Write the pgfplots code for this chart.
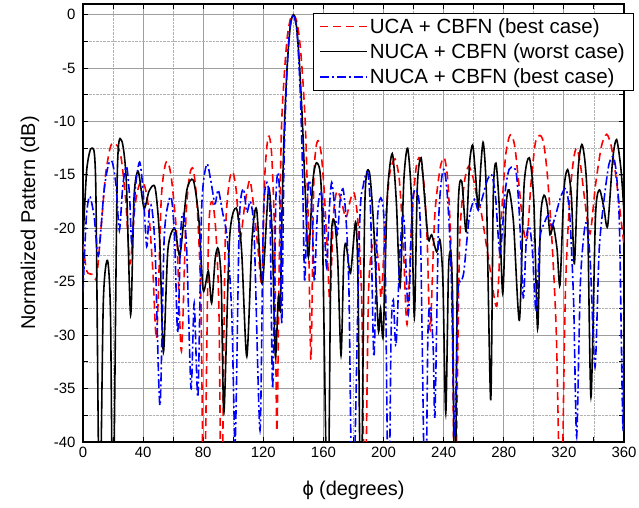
\documentclass[border=0pt]{standalone}
\usepackage{fontspec}
\setmainfont{Liberation Sans}
\usepackage{pgfplots}
\pgfplotsset{compat=1.18}

\pgfplotstableread{
x y
0 -21.5
2.5 -24
6 -24.3
9 -24.6
12 -20
15 -15
18 -12.5
20.2 -12
23 -12.3
25.5 -13.5
28.5 -17.5
31.3 -23.3
34.5 -18
37.5 -15.9
40.5 -15.8
43.5 -18
46.5 -24
49 -30.3
52 -17.5
54.5 -14.2
56.5 -13.8
59 -15.5
62.5 -21
65.5 -31.5
68.5 -19
71 -15
73.4 -14.5
76 -18
78.5 -27
80.5 -48
83.5 -21
86 -17.5
88.5 -20.5
90.5 -28
92.2 -48
94.5 -22
97 -16
99.6 -14.7
102 -16.5
104.5 -21
107.5 -18
111 -15.5
114 -18.5
116.5 -22
119 -25
121 -15
123.3 -11.4
125.5 -13
127.5 -21
129 -39
130.5 -24
132 -11
134 -5.5
136 -2
138 -0.4
140 0
142 -0.5
144 -2.2
146 -5.5
148 -10.5
150 -20
151.7 -32.3
153.5 -16
155 -12.5
156.6 -11.8
158.5 -13
160.5 -16.5
162.5 -22
164.4 -27
166.5 -19
169 -16.5
172 -17.5
175 -19
178 -17.3
180.5 -16.7
183 -19.5
185.5 -27
187.6 -48
190 -26
193.5 -21
196.5 -23
198.5 -26.5
201 -20
204 -15
207.6 -13.5
210.5 -15.5
213 -21
215.6 -29
218.5 -20
221.5 -14.5
224.2 -13.4
227 -16
229 -21
231 -29.5
234 -19
237.5 -14.5
240.4 -13.4
243 -16
245.5 -25
247.5 -48
250.5 -22
253.5 -16
256.5 -14.2
259.5 -15.2
262 -17
265 -18.5
270 -23
275.3 -27.3
278 -20
281 -13.5
283.5 -11.5
285.3 -11.3
287.5 -12.5
290.5 -16.5
293 -20
295.5 -21
298 -16
301 -12
304 -11.3
306.5 -12
309 -15
312 -21
315 -30
318 -48
321 -26
324 -17
326.5 -13.5
328.5 -12.5
331 -14
334 -17.5
337.4 -20.5
341 -16
345 -12.3
348.5 -11.2
351.5 -12.3
354.5 -15
357 -18
360 -21.5
}\ucabest

\pgfplotstableread{
x y
0 -21.2
2.5 -14.5
5.8 -12.5
8.5 -16
11 -48
13.5 -27
16.3 -23
18.3 -28
20 -48
22.8 -15
25.7 -11.8
28.8 -15.5
31.7 -28.1
34 -17
36.8 -14.7
40.6 -18.1
44 -16.5
48 -16.2
51 -21
53.5 -31.6
56.5 -22
61 -20
64.5 -22.5
69 -16.5
73.4 -15.5
77 -19
80 -25.8
83.4 -24
85.6 -27
88 -22.8
90 -21.9
92 -25
93.8 -37.2
97.5 -21
102 -18.1
105.5 -22
109 -32
112.5 -21
115.5 -18.2
119.3 -25.2
123.5 -16.3
126 -21
128 -32
130 -26.4
131.3 -27.5
132.5 -18
134 -10.5
136 -4.5
138 -1
140 0
142 -1
144 -4.5
146 -10
148 -17
150 -22.7
153 -15.5
156 -13.9
159 -18
162.8 -48
165 -22
167.3 -19.3
169.5 -23
171.7 -31.9
173.5 -23
175 -21.4
178 -24.2
181.4 -19.4
183 -25
185 -48
187.5 -18
190.5 -14.7
193.5 -20
196.5 -29.5
198 -27.5
199.8 -30
202.5 -17
205.8 -13
208.5 -17.5
211 -25.5
213.5 -15.5
216 -12.5
218.5 -17
220.5 -28.3
222.5 -16
225 -13.4
227.5 -17.5
229.8 -21.1
232 -20.6
235.3 -22.2
237.6 -21.1
239.5 -25
241.4 -37.3
243.2 -24
244.7 -22.3
246 -27
247.5 -48
249.5 -19
252 -15.6
254.9 -20.3
257.2 -14
259.3 -12.2
261.2 -15
263 -18.1
264.8 -14
266.4 -12
268.5 -17
271.3 -36.1
273 -17
274.8 -13.9
277 -18
279.3 -26.1
281.5 -18
283.5 -16.4
286.5 -19.5
290.4 -28.6
293.5 -16
297 -13.4
300 -17.5
302.5 -29.4
304.5 -19
306.8 -16.9
309 -18
310.8 -20.6
313 -19.8
315.5 -22
317.4 -25.3
320 -16.5
322.5 -14.5
325 -17
327 -23.3
329.5 -14.5
332.3 -12.2
335.5 -17
338 -35.8
341 -19
343.6 -16.4
346.5 -18
349.1 -19.8
352.5 -13.5
355.1 -11.7
358 -14.5
360 -18.5
}\nucaworst

\pgfplotstableread{
x y
0 -26
2.2 -19
4.5 -17
7.5 -19
10.2 -22.6
14 -16.5
17 -14
19.5 -13.8
22 -16
24.2 -20.2
26.5 -16
29 -14.2
31 -17
32.5 -21.4
35 -16
37.7 -13.8
40 -16.5
42.4 -21.7
44 -18.5
45.7 -18
48 -22
51.2 -36.6
54 -21
57 -17.5
59 -17.3
61 -21
63 -29.8
65 -20.5
66.7 -18.6
69 -22
71.9 -35
74 -27
76.5 -35.7
79 -18
82.3 -14
85 -15.5
87.8 -17.7
90 -16.4
93 -18.6
96 -21
99 -28
101.3 -39.8
104 -19.5
106.7 -16.3
109 -18.5
111.5 -17.5
114 -21
117.8 -38.9
120 -19
122.4 -15.7
124.5 -19
126.2 -35
128.3 -17.5
130 -14.8
131.2 -19
132.3 -29
133.7 -14
135.5 -6
137.5 -1.5
140 0
142.5 -1.8
144.5 -7
146 -14
147.5 -25
149.2 -17.5
150.8 -15.5
152.5 -19
154 -25
156 -18.5
158.3 -16.5
160.3 -19
162.1 -23.6
164 -18
165.5 -15.7
167.5 -18
169.3 -20.5
171 -17.5
173 -16.3
175 -19
177 -26
179.5 -48
184 -20
186.5 -16
189.5 -14.8
191.5 -19
193.6 -32
196 -19
198.8 -17.3
201 -22
203.3 -48
205 -30
206.5 -26.7
208.3 -31
211 -22
213.5 -19
216.5 -28
219 -18
221.5 -16.4
224.5 -20
227.7 -48
229.5 -30
231 -27.3
233 -31
234.2 -37.5
236.5 -20
238.5 -15.5
240.4 -14.5
242.5 -17
245 -24
247.3 -39.5
249.5 -26
251.5 -25
253.5 -24
257 -19
260.5 -17.3
263 -18.3
266 -17
269 -15.5
272 -15
274.5 -17
277.5 -22.3
281 -16.5
283.5 -14.5
286.5 -14.3
288.5 -15
290.5 -19
293 -26.5
295 -21
297 -19.8
299 -22
301.5 -27.8
304 -21
307 -19.5
309.6 -18.8
312 -19.8
315 -18.5
318 -17
321.5 -16.3
324 -19
326.5 -27
328.5 -39.5
331 -25
334.5 -19.5
337.5 -23
340.7 -33
343.5 -22
347 -17
350 -14
352.9 -13.3
355 -15
357 -20
359.3 -39
360 -27
}\nucabest

\begin{document}
\begin{tikzpicture}
\path[use as bounding box] (-83bp,-66bp) rectangle (556bp,442bp);
\begin{axis}[
  at={(0,0)}, anchor=south west,
  width=541bp, height=438bp, scale only axis,
  xmin=0, xmax=360, ymin=-40, ymax=1,
  xtick={0,40,...,360}, minor xtick={20,60,...,340},
  ytick={-40,-35,...,0}, minor ytick={-37.5,-32.5,...,-2.5},
  grid=both,
  major grid style={solid, draw=black!38, line width=0.8pt},
  minor grid style={densely dotted, draw=black!30, line width=0.7pt},
  tick align=inside,
  major tick length=5bp, minor tick length=5bp,
  every tick/.style={black, line width=1pt},
  axis line style={line width=1.3pt},
  xtick pos=both, ytick pos=both,
  /pgf/number format/assume math mode=true,
  tick label style={font=\fontsize{15}{18}\selectfont},
  yticklabel style={xshift=-4bp},
  xticklabel style={yshift=-2bp},
  xlabel={ϕ (degrees)},
  ylabel={Normalized Pattern (dB)},
  every axis x label/.style={at={(axis description cs:0.5,-0.11)}, anchor=center, font=\fontsize{20}{24}\selectfont},
  every axis y label/.style={at={(axis description cs:-0.098,0.5)}, anchor=center, rotate=90, font=\fontsize{20}{24}\selectfont},
  legend style={at={(axis description cs:1.0166,0.9795)}, anchor=north east, draw=black, fill=white,
    font=\fontsize{20.6}{24}\selectfont, inner xsep=6bp, inner ysep=3bp, row sep=5bp},
  legend cell align=left,
  legend image code/.code={\draw[#1, line width=1.6pt] (0bp,0bp) -- (47bp,0bp);},
]
\addplot[color=red, line width=1.6pt, dash pattern=on 8bp off 5bp, smooth, tension=0.45] table {\ucabest};
\addlegendentry{UCA + CBFN (best case)}
\addplot[color=black, line width=1.6pt, solid, smooth, tension=0.45] table {\nucaworst};
\addlegendentry{NUCA + CBFN (worst case)}
\addplot[color=blue, line width=1.6pt, dash pattern=on 9bp off 3bp on 2bp off 3bp, smooth, tension=0.45] table {\nucabest};
\addlegendentry{NUCA + CBFN (best case)}
\end{axis}
\end{tikzpicture}
\end{document}
